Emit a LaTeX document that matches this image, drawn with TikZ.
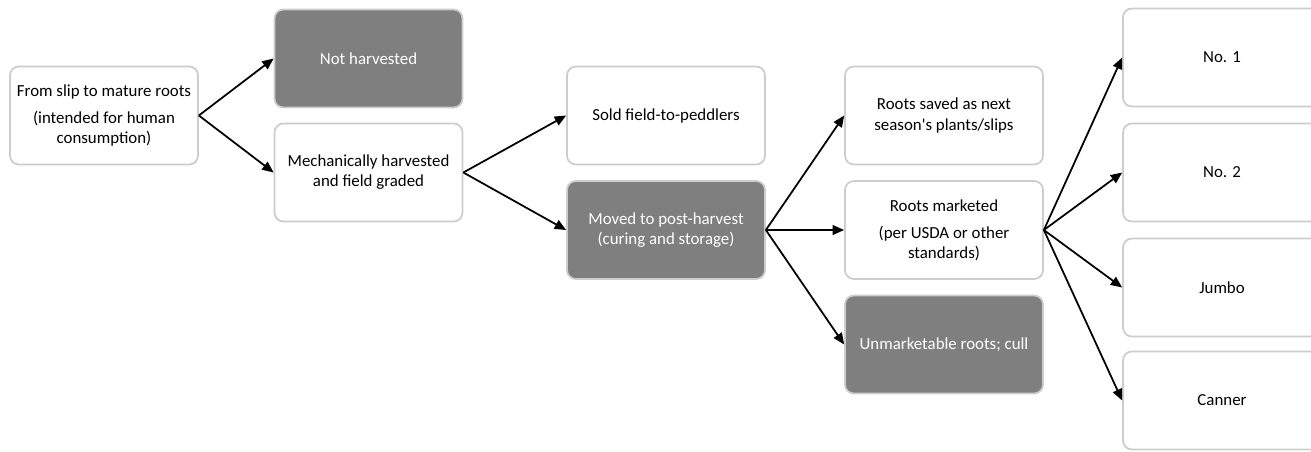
\documentclass[tikz,border=0pt]{standalone}
\usepackage{fontspec}
\setmainfont{Carlito}
\usetikzlibrary{arrows.meta}
\definecolor{boxline}{RGB}{205,205,205}
\definecolor{boxdark}{RGB}{127,127,127}
\tikzset{
  stage/.style={draw=boxline, line width=1pt, rounded corners=5pt, fill=white, align=center,
    minimum width=3.96cm, minimum height=1.96cm, inner sep=2pt,
    font=\fontsize{9.6}{11.4}\selectfont},
  narrow/.style={stage, minimum width=3.76cm},
  dark/.style={fill=boxdark, text=white},
  flow/.style={-{Triangle[length=6.5pt,width=5.5pt]}, line width=1pt}
}
\begin{document}
\begin{tikzpicture}[x=0.02cm,y=-0.02cm]
    \useasboundingbox (0,0) rectangle (1311,451);
    \clip (0,0) rectangle (1311,451);
    \node [narrow] (root) at (104,115.5) {From slip to mature roots\\[4pt](intended for human\\consumption)};
    \node [narrow,dark] (nothv) at (368.5,58.5) {Not harvested};
    \node [narrow] (mech) at (368.5,172.5) {Mechanically harvested\\and field graded};
    \node [stage] (sold) at (666,115.5) {Sold field-to-peddlers};
    \node [stage,dark] (moved) at (666,230) {Moved to post-harvest\\(curing and storage)};
    \node [stage] (saved) at (944,115.5) {Roots saved as next\\season\textquotesingle s plants/slips};
    \node [stage] (market) at (944,230) {Roots marketed\\[4pt](per USDA or other\\standards)};
    \node [stage,dark] (unmark) at (944,344.5) {Unmarketable roots; cull};
    \node [stage] (no1) at (1222,57.5) {No. 1};
    \node [stage] (no2) at (1222,172.5) {No. 2};
    \node [stage] (jumbo) at (1222,287.5) {Jumbo};
    \node [stage] (canner) at (1222,400.5) {Canner};
    \draw [flow] (root.east)--(nothv.west);
    \draw [flow] (root.east)--(mech.west);
    \draw [flow] (mech.east)--(sold.west);
    \draw [flow] (mech.east)--(moved.west);
    \draw [flow] (moved.east)--(saved.west);
    \draw [flow] (moved.east)--(market.west);
    \draw [flow] (moved.east)--(unmark.west);
    \foreach \g in {no1,no2,jumbo,canner}
      \draw [flow] (market.east)--(\g.west);
  \end{tikzpicture}
\end{document}
